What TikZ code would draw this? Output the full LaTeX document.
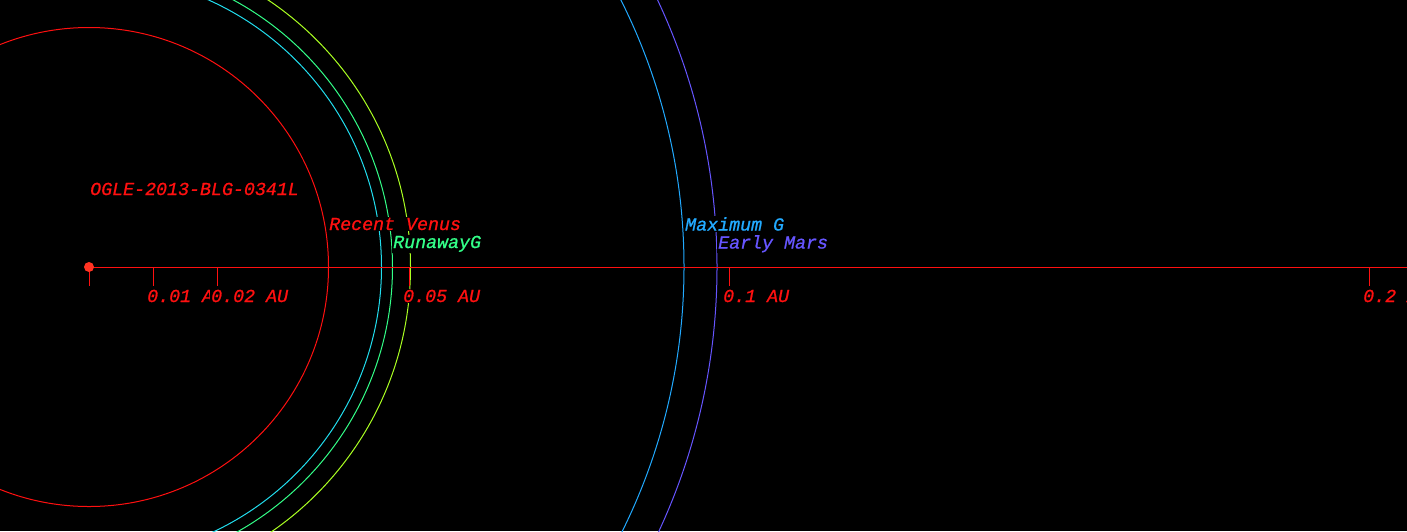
\documentclass[tikz,border=0pt]{standalone}
\usepackage{fontspec}
\newfontfamily\monof[ItalicFeatures={FakeBold=0.9}]{Liberation Mono}
\definecolor{cred}{HTML}{FF1010}
\definecolor{cstar}{HTML}{FF3322}
\definecolor{ccyan}{HTML}{22DDEE}
\definecolor{cgreen}{HTML}{33FF88}
\definecolor{cyell}{HTML}{AAFF22}
\definecolor{cblue}{HTML}{22AAFF}
\definecolor{cpurp}{HTML}{6655FF}
\tikzset{
  orbit/.style={line width=1pt},
  lbl/.style={font=\monof\itshape\fontsize{18.3}{20}\selectfont, anchor=base west, fill=black, inner sep=1pt},
  tickln/.style={cred, line width=1pt},
}
\begin{document}
\begin{tikzpicture}[x=1pt,y=-1pt]
\fill[black] (0,0) rectangle (1407,531);
\useasboundingbox (0,0) rectangle (1407,531);
\begin{scope}
\clip (0,0) rectangle (1407,531);
\coordinate (c) at (89,267);
\draw[orbit,cred] (c) circle (239.5);
\draw[orbit,ccyan] (c) circle (292.5);
\draw[orbit,cgreen] (c) circle (303.5);
\draw[orbit,cyell] (c) circle (321.5);
\draw[orbit,cblue] (c) circle (595);
\draw[orbit,cpurp] (c) circle (628);
\coordinate (axend) at (1407,267);
\draw[tickln] (c) -- (axend);
\coordinate (t0) at (89,267);
\coordinate (t1) at (153,267);
\coordinate (t2) at (217,267);
\coordinate (t5) at (409,267);
\coordinate (t10) at (729,267);
\coordinate (t20) at (1369,267);
\foreach \t in {t0,t1,t2,t5,t10,t20} \draw[tickln] (\t) -- ++(0,19);
\node[circle, fill=cstar, inner sep=0pt, minimum size=10pt] (star) at (c) {};
\node[lbl, text=cred] (ogle) at (89,195) {OGLE-2013-BLG-0341L};
\node[lbl, text=cred] (l1) at (146,302) {0.01 AU};
\node[lbl, text=cred] (l2) at (210,302) {0.02 AU};
\node[lbl, text=cred] (l5) at (402,302) {0.05 AU};
\node[lbl, text=cred] (l10) at (722,302) {0.1 AU};
\node[lbl, text=cred] (l20) at (1362,302) {0.2 AU};
\node[lbl, text=cred] (venus) at (328,230) {Recent Venus};
\node[lbl, text=cgreen] (runaway) at (392,248) {RunawayG};
\node[lbl, text=cblue] (maxg) at (684,230.5) {Maximum G};
\node[lbl, text=cpurp] (mars) at (717,248.5) {Early Mars};
\end{scope}
\end{tikzpicture}
\end{document}
